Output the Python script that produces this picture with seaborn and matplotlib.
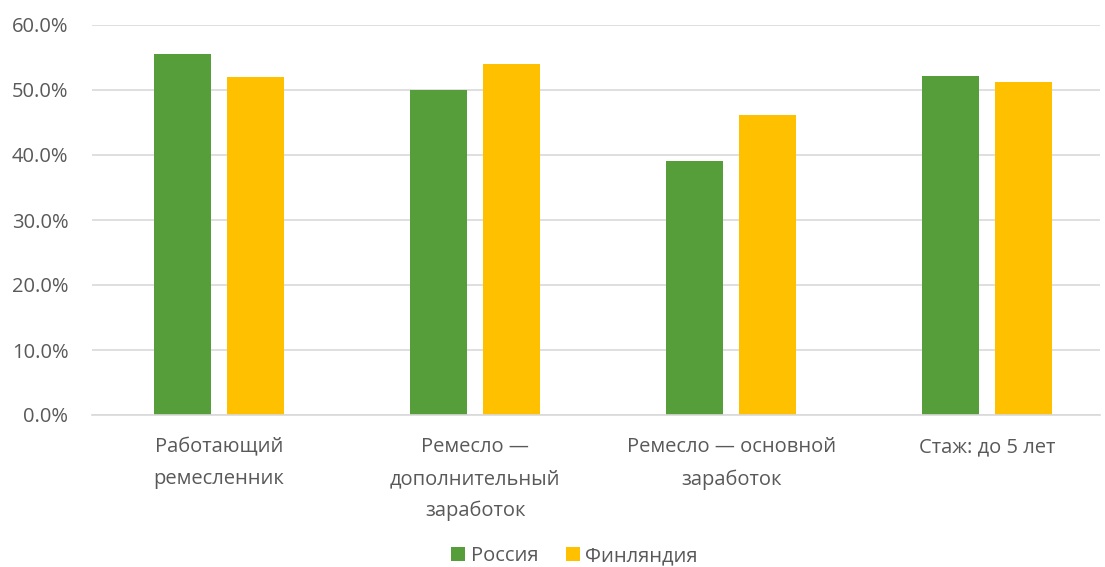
import matplotlib
matplotlib.use("Agg")
import matplotlib.pyplot as plt
import matplotlib.ticker as mticker
from matplotlib.patches import Patch
import seaborn as sns
import pandas as pd

categories = ["Работающий\nремесленник", "Ремесло —\nдополнительный\nзаработок",
              "Ремесло — основной\nзаработок", "Стаж: до 5 лет"]
russia = [0.555, 0.500, 0.391, 0.522]
finland = [0.520, 0.540, 0.462, 0.513]
series = ["Россия", "Финляндия"]
colors = ["#559E3A", "#FFC000"]

df = pd.DataFrame({
    "cat": categories * 2,
    "val": russia + finland,
    "country": [series[0]] * 4 + [series[1]] * 4,
})

sns.set_theme(style="white")
plt.rcParams["font.family"] = ["Open Sans", "DejaVu Sans"]

fig = plt.figure(figsize=(11.05, 5.67), dpi=100)
ax = fig.add_axes([92 / 1105, 1 - 415 / 567, (1100 - 92) / 1105, (415 - 25) / 567])

sns.barplot(data=df, x="cat", y="val", hue="country", palette=colors,
            width=0.57, gap=0.22, ax=ax, legend=False, saturation=1,
            linewidth=0)

ax.set_ylim(0, 0.6)
ax.set_xlim(-0.496, 3.44)
ax.yaxis.set_major_locator(mticker.MultipleLocator(0.1))
ax.yaxis.set_major_formatter(mticker.FuncFormatter(lambda v, p: f"{v * 100:.1f}%"))
ax.grid(axis="y", color="#D9D9D9", linewidth=1.2)
ax.set_axisbelow(True)
for s in ["top", "right", "left"]:
    ax.spines[s].set_visible(False)
ax.spines["bottom"].set_color("#D9D9D9")
ax.spines["bottom"].set_linewidth(1.2)
ax.tick_params(axis="both", length=0, colors="#595959", labelsize=14.5)
ax.tick_params(axis="y", pad=17)
ax.tick_params(axis="x", pad=16)
for t in ax.get_xticklabels():
    t.set_linespacing(1.78)
ax.set_xlabel("")
ax.set_ylabel("")

handles = [Patch(facecolor=c, edgecolor="none") for c in colors]
fig.legend(handles, series, loc="lower center", bbox_to_anchor=(0.52, -0.03), ncol=2,
           frameon=False, fontsize=14.5, handlelength=0.7, handleheight=0.7,
           handletextpad=0.25, columnspacing=1.4, labelcolor="#595959")

fig.savefig("out.png", dpi=100)
